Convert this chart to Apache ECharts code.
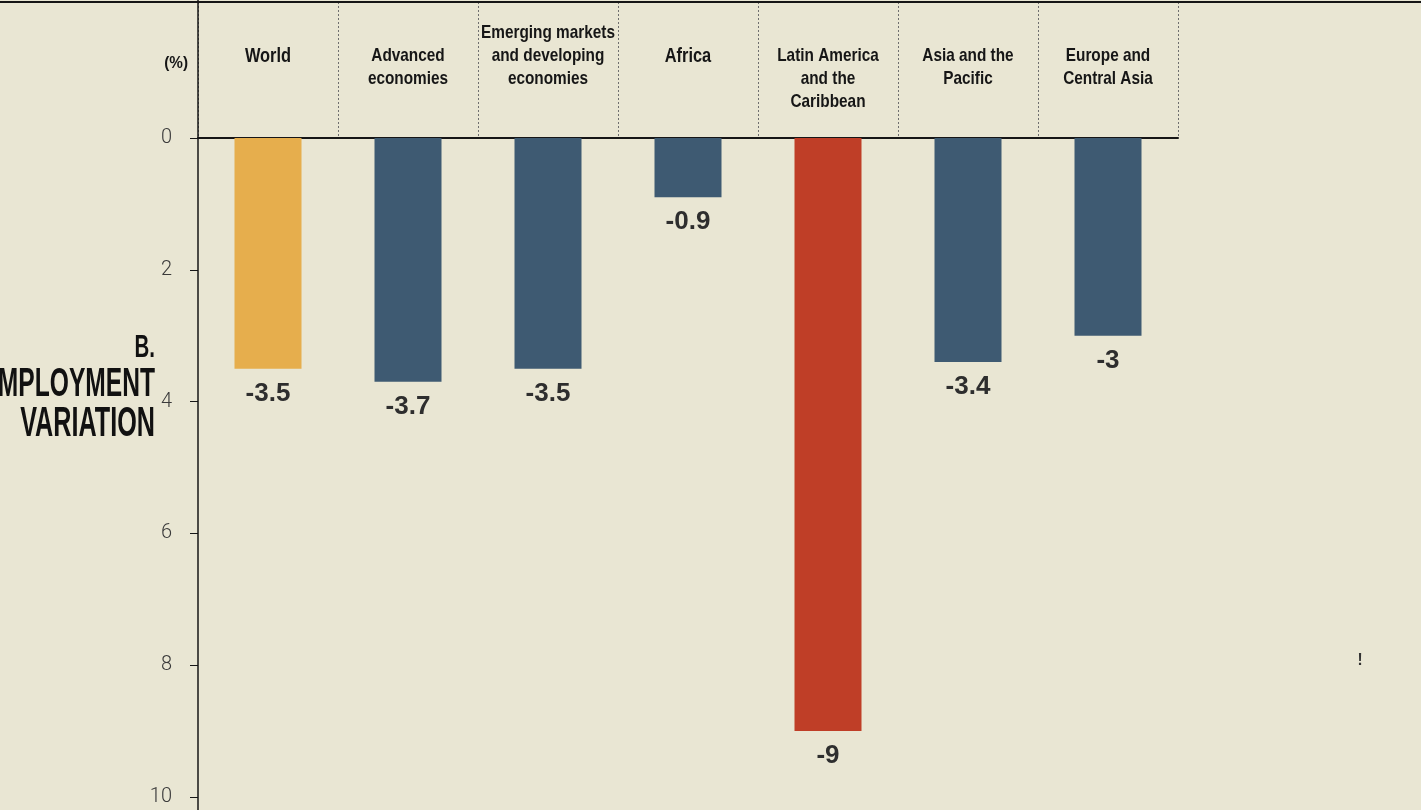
<!DOCTYPE html>
<html>
<head>
<meta charset="utf-8">
<script src="https://cdn.jsdelivr.net/npm/echarts@6/dist/echarts.min.js"></script>
<style>
  html, body { margin: 0; padding: 0; background: #E9E6D3; }
  #chart { width: 1421px; height: 810px; }
</style>
</head>
<body>
<div id="chart"></div>
<script>
// Employment variation by region (%)
const categories = [
  'World',
  'Advanced\neconomies',
  'Emerging markets\nand developing\neconomies',
  'Africa',
  'Latin America\nand the\nCaribbean',
  'Asia and the\nPacific',
  'Europe and\nCentral Asia'
];
const employmentChange = [-3.5, -3.7, -3.5, -0.9, -9, -3.4, -3];
const yTicks = { min: -10, max: 0, step: 2 };

// layout
const GRID_LEFT = 198, GRID_RIGHT = 243, GRID_TOP = 138, GRID_BOTTOM = 13;
const W = 1421, H = 810;

const COLOR_WORLD = '#E6AE4D';
const COLOR_HIGHLIGHT = '#BF3E27';
const COLOR_REGION = '#3E5A72';
const INK = '#161616';

const sansBold = "'Liberation Sans', Arial, sans-serif";
const raisedHeaders = ['Emerging markets\nand developing\neconomies'];

const maxDrop = Math.min(...employmentChange);
const barColors = categories.map((c, i) => {
  if (i === 0) return COLOR_WORLD;
  if (employmentChange[i] === maxDrop) return COLOR_HIGHLIGHT;
  return COLOR_REGION;
});

const chart = echarts.init(document.getElementById('chart'), null, { renderer: 'canvas' });

// condensed lettering: scaled horizontally around the anchor point
function condensedText(x, y, text, opts) {
  return {
    type: 'text',
    x: x, y: y,
    scaleX: opts.scaleX,
    z: 20,
    style: {
      text: text,
      x: 0, y: 0,
      align: opts.align || 'center',
      verticalAlign: opts.verticalAlign || 'middle',
      lineHeight: opts.lineHeight,
      font: 'bold ' + opts.size + 'px ' + sansBold,
      fill: opts.fill || INK
    }
  };
}

const option = {
  backgroundColor: '#E9E6D3',
  animation: false,
  grid: [
    { left: GRID_LEFT, right: GRID_RIGHT, top: GRID_TOP, bottom: GRID_BOTTOM, containLabel: false, outerBoundsMode: 'none' },
    { left: GRID_LEFT, right: GRID_RIGHT, top: 2, height: GRID_TOP - 2, containLabel: false, outerBoundsMode: 'none' }
  ],
  xAxis: [
    {
      type: 'category',
      gridIndex: 0,
      position: 'top',
      data: categories,
      axisLine: { show: true, onZero: true, lineStyle: { color: INK, width: 2 } },
      axisTick: { show: false },
      axisLabel: { show: false },
      splitLine: { show: false }
    },
    {
      type: 'category',
      gridIndex: 1,
      data: categories,
      axisLine: { show: false },
      axisTick: { show: false },
      axisLabel: { show: false },
      splitLine: { show: true, lineStyle: { type: [2, 2], color: '#6f6f6f', width: 1 } }
    }
  ],
  yAxis: [
    {
      type: 'value',
      gridIndex: 0,
      min: yTicks.min,
      max: yTicks.max,
      interval: yTicks.step,
      axisLine: { show: false },
      axisTick: { show: true, length: 8, lineStyle: { color: INK, width: 1 } },
      axisLabel: {
        margin: 26,
        fontFamily: "Roboto, 'Liberation Sans', sans-serif",
        fontWeight: 300,
        fontSize: 20,
        color: '#3a3a3a',
        formatter: v => String(Math.abs(v))
      },
      splitLine: { show: false }
    },
    { type: 'value', gridIndex: 1, show: false }
  ],
  series: [
    {
      type: 'bar',
      xAxisIndex: 0,
      yAxisIndex: 0,
      barWidth: 67,
      data: employmentChange.map((v, i) => ({ value: v, itemStyle: { color: barColors[i] } })),
      label: {
        show: true,
        position: 'bottom',
        distance: 12,
        fontFamily: sansBold,
        fontWeight: 'bold',
        fontSize: 26,
        color: '#2e2e2e',
        formatter: p => String(p.value)
      }
    }
  ]
};

chart.setOption(option);

// header labels above each column, frame lines and panel title
const graphics = [
  { type: 'line', z: 10, shape: { x1: 0, y1: 2, x2: W, y2: 2 }, style: { stroke: INK, lineWidth: 2 } },
  { type: 'line', z: 10, shape: { x1: GRID_LEFT, y1: 0, x2: GRID_LEFT, y2: H }, style: { stroke: INK, lineWidth: 1.5 } },
  condensedText(188, 63, '(%)', { size: 17, scaleX: 0.9, align: 'right' }),
  condensedText(155, 348, 'B.', { size: 31, scaleX: 0.66, align: 'right', fill: '#111' }),
  condensedText(155, 385, 'EMPLOYMENT', { size: 41, scaleX: 0.6, align: 'right', fill: '#111' }),
  condensedText(155, 424, 'VARIATION', { size: 42, scaleX: 0.6, align: 'right', fill: '#111' }),
  condensedText(1360, 660, '!', { size: 17, scaleX: 0.9, fill: '#333' })
];
categories.forEach((name, i) => {
  const cx = chart.convertToPixel({ xAxisIndex: 0 }, i);
  const single = !name.includes('\n');
  const top = raisedHeaders.includes(name) ? 21 : 44.5;
  graphics.push(condensedText(cx, top, name, {
    size: single ? 20 : 18.5,
    scaleX: single ? 0.82 : 0.83,
    verticalAlign: 'top',
    lineHeight: 23
  }));
});
chart.setOption({ graphic: graphics });
</script>
</body>
</html>
